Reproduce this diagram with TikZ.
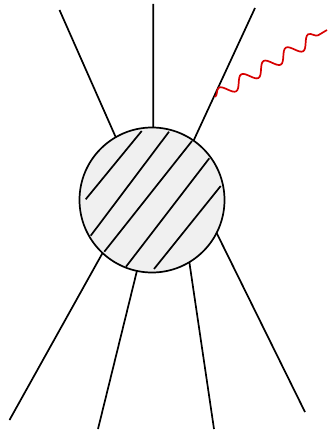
\documentclass[tikz,border=0pt]{standalone}
\usetikzlibrary{decorations.pathmorphing}
\definecolor{wavered}{RGB}{215,0,0}
\definecolor{blobfill}{RGB}{240,240,240}
\begin{document}
\begin{tikzpicture}[x=1pt,y=-1pt,
  leg/.style={line width=1.7pt,black},
  hatch/.style={line width=1.7pt,black},
  blobstyle/.style={circle,draw=black,line width=1.7pt,fill=blobfill,minimum size=145pt,inner sep=0pt,outer sep=0pt},
  wave/.style={wavered,line width=1.7pt,decorate,decoration={snake,segment length=26pt,amplitude=6pt,pre length=0pt,post length=0pt}}]
\useasboundingbox (0,0) rectangle (328,433);
\coordinate (tl) at (59.5,10);
\coordinate (tc) at (153.3,4);
\coordinate (tr) at (255,8);
\coordinate (bl) at (9.5,420);
\coordinate (bc) at (98,429);
\coordinate (bd) at (214,429);
\coordinate (br) at (305,412);
\coordinate (w0) at (215,97);
\coordinate (w1) at (327,30);
\node[blobstyle] (blob) at (152,200) {};
\draw[leg] (tl) -- (blob.120.7);
\draw[leg] (tc) -- (blob.89);
\draw[leg] (tr) -- (blob.55.8);
\draw[leg] (bl) -- (blob.227.6);
\draw[leg] (bc) -- (blob.258);
\draw[leg] (bd) -- (blob.301);
\draw[leg] (br) -- (blob.333.9);
\draw[hatch] (85.7,199.3) -- (141.7,131);
\draw[hatch] (90.7,235.7) -- (169,131.7);
\draw[hatch] (104.3,251.7) -- (192,141);
\draw[hatch] (126,266.7) -- (209.3,158.3);
\draw[hatch] (154,269) -- (220.7,186);
\draw[wave] (w0) -- (w1);
\end{tikzpicture}
\end{document}
